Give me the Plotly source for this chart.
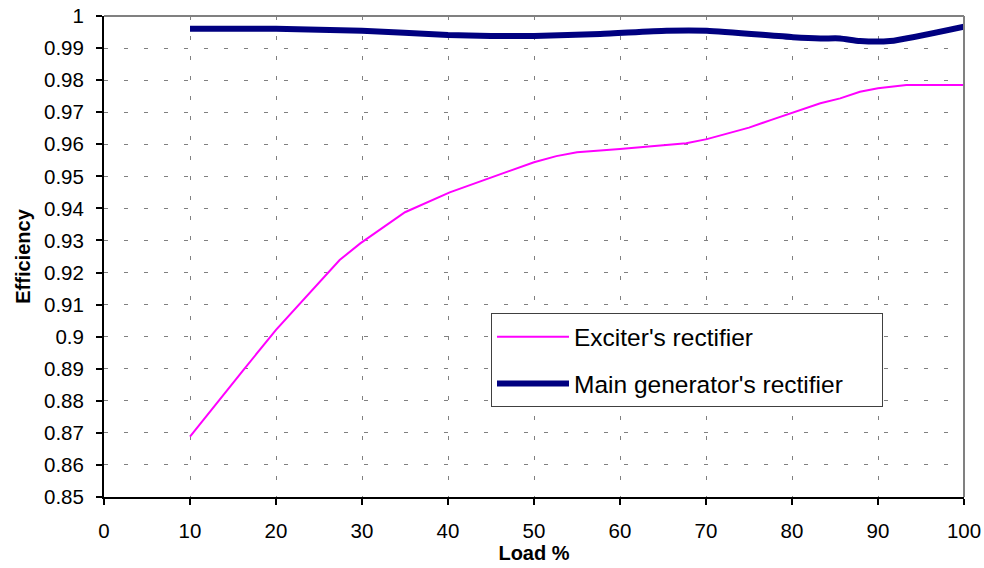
import plotly.graph_objects as go

# Load (%) and efficiency of the exciter's rectifier
exciter_load = [10, 12.3, 16.2, 20, 22.8, 27.4, 29.8, 35, 40.2, 45, 50, 52.6, 55, 60,
                67.7, 70.1, 75, 77.6, 80.2, 83.3, 85.6, 87.9, 90, 93.3, 100]
exciter_eff = [0.8688, 0.8766, 0.8896, 0.9021, 0.9104, 0.9239, 0.9291, 0.9388, 0.9450,
               0.9497, 0.9544, 0.9563, 0.9575, 0.9585, 0.9603, 0.9616, 0.9652, 0.9676,
               0.9699, 0.9728, 0.9743, 0.9764, 0.9775, 0.9785, 0.9785]

# Load (%) and efficiency of the main generator's rectifier
main_load = [10, 20, 30, 40, 45, 50, 57.7, 65.4, 70.1, 80.1, 83.3, 85.6, 87.9, 91.4, 100]
main_eff = [0.9960, 0.9960, 0.9954, 0.9941, 0.9938, 0.9938, 0.9944, 0.9954, 0.9954,
            0.9934, 0.9930, 0.9930, 0.9922, 0.9922, 0.9967]

x_ticks = [0, 10, 20, 30, 40, 50, 60, 70, 80, 90, 100]
y_ticks = [0.85, 0.86, 0.87, 0.88, 0.89, 0.90, 0.91, 0.92, 0.93, 0.94,
           0.95, 0.96, 0.97, 0.98, 0.99, 1.00]
y_tick_text = ["0.85", "0.86", "0.87", "0.88", "0.89", "0.9", "0.91", "0.92", "0.93",
               "0.94", "0.95", "0.96", "0.97", "0.98", "0.99", "1"]

FONT = "Arial, Liberation Sans, sans-serif"
PAD = "\u00a0\u00a0\u00a0\u00a0\u00a0"  # keeps some air on the right side of the legend box

fig = go.Figure()
fig.add_trace(go.Scatter(
    x=exciter_load, y=exciter_eff, mode="lines", name="Exciter's rectifier",
    line=dict(color="#FF00FF", width=2), legendgroup="a",
))
fig.add_trace(go.Scatter(
    x=main_load, y=main_eff, mode="lines", name="Main generator's rectifier" + PAD,
    line=dict(color="#000080", width=6, shape="spline", smoothing=0.6), legendgroup="b",
))

grid = dict(showgrid=True, gridcolor="#808080", gridwidth=1, griddash="4px,16px")

fig.update_xaxes(
    range=[0, 100], tickvals=x_ticks, ticks="outside", ticklen=6, tickwidth=2,
    tickcolor="black", showline=True, linecolor="black", linewidth=2,
    tickfont=dict(family=FONT, size=20.5, color="black"), ticklabelstandoff=8,
    title=dict(text="<b>Load %</b>", font=dict(family=FONT, size=20, color="black"),
               standoff=3),
    zeroline=False, automargin=False, **grid,
)
fig.update_yaxes(
    range=[0.85, 1.0], tickvals=y_ticks, ticktext=y_tick_text, ticks="outside",
    ticklen=6, tickwidth=2, tickcolor="black", showline=True, linecolor="black",
    linewidth=2, tickfont=dict(family=FONT, size=20.5, color="black"),
    ticklabelstandoff=8,
    title=dict(text="<b>Efficiency</b>", font=dict(family=FONT, size=20, color="black"),
               standoff=8),
    zeroline=False, automargin="left", **grid,
)

# gray frame on the top and right edges of the plot area
fig.add_shape(type="line", xref="paper", yref="paper", x0=0, y0=1, x1=1, y1=1,
              line=dict(color="#808080", width=2))
fig.add_shape(type="line", xref="paper", yref="paper", x0=1, y0=0, x1=1, y1=1,
              line=dict(color="#808080", width=2))

fig.update_layout(
    width=984, height=568,
    margin=dict(l=104, r=20, t=16, b=71),
    plot_bgcolor="white", paper_bgcolor="white",
    font=dict(family=FONT, color="black"),
    legend=dict(
        x=0.45, y=0.382, xanchor="left", yanchor="top",
        bgcolor="white", bordercolor="#404040", borderwidth=1,
        font=dict(family=FONT, size=24.5, color="black"),
        tracegroupgap=12, itemwidth=72,
    ),
)

fig.write_html("out.html")
